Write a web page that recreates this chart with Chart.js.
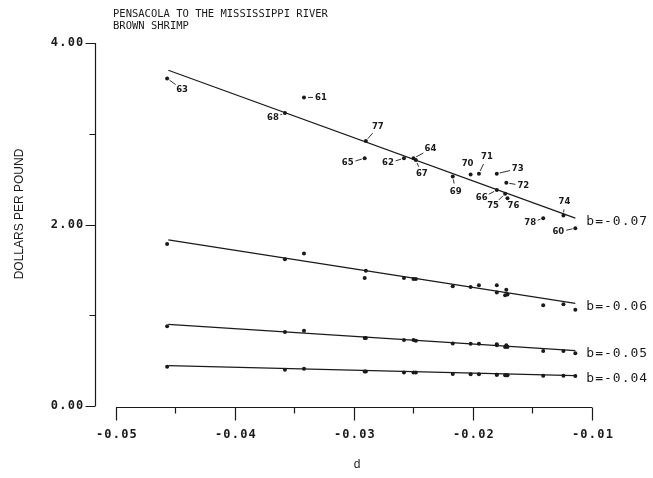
<!DOCTYPE html>
<html>
<head>
<meta charset="utf-8">
<script src="https://cdn.jsdelivr.net/npm/chart.js@4/dist/chart.umd.min.js"></script>
<style>
  html, body { margin: 0; padding: 0; background: #fff; }
  #wrap { width: 653px; height: 478px; }
</style>
</head>
<body>
<div id="wrap"><canvas id="chart"></canvas></div>
<script>
// Brown shrimp, Pensacola to the Mississippi River: price vs d, one curve per b

// --- data ------------------------------------------------------------------
const years = ['60','61','62','63','64','65','66','67','68','69',
               '70','71','72','73','74','75','76','77','78'];
const dValues = [-0.0114, -0.0342, -0.0258, -0.0457, -0.0250, -0.0291, -0.0180, -0.0248, -0.0358, -0.0217,
                 -0.0202, -0.0195, -0.0172, -0.0180, -0.0124, -0.0173, -0.0171, -0.0290, -0.0141];

const priceB07 = [1.96, 3.40, 2.73, 3.61, 2.73, 2.73, 2.38, 2.71, 3.23, 2.53,
                  2.55, 2.56, 2.46, 2.56, 2.10, 2.34, 2.29, 2.92, 2.07];
const priceB06 = [1.06, 1.68, 1.41, 1.785, 1.40, 1.41, 1.25, 1.40, 1.617, 1.32,
                  1.31, 1.33, 1.28, 1.33, 1.12, 1.22, 1.23, 1.49, 1.11];
const priceB05 = [0.58, 0.83, 0.727, 0.88, 0.727, 0.75, 0.67, 0.72, 0.815, 0.69,
                  0.687, 0.687, 0.67, 0.68, 0.606, 0.65, 0.65, 0.75, 0.606];
const priceB04 = [0.33, 0.41, 0.37, 0.433, 0.37, 0.38, 0.345, 0.37, 0.40, 0.353,
                  0.35, 0.35, 0.34, 0.345, 0.334, 0.34, 0.34, 0.38, 0.334];

// fitted lines: [start, end]
const fitD   = [-0.0456, -0.0114];
const fitB07 = [3.70, 2.07];
const fitB06 = [1.83, 1.13];
const fitB05 = [0.90, 0.61];
const fitB04 = [0.444, 0.334];

const curveNames = ['b=-0.07', 'b=-0.06', 'b=-0.05', 'b=-0.04'];

const xTicks = [-0.05, -0.04, -0.03, -0.02, -0.01];
const xMinorTicks = [-0.045, -0.035, -0.025, -0.015];
const yTicks = [0, 1, 2, 3, 4];
const yTickLabels = ['0.00', '', '2.00', '', '4.00'];

// year label offsets from the point (pixels), top curve only
const labelOffsets = {
  '60': [-17, 4],  '61': [17, 0],   '62': [-16, 5], '63': [15, 11], '64': [17, -9],
  '65': [-17, 5],  '66': [-15, 8],  '67': [6, 14],  '68': [-12, 5], '69': [3, 15],
  '70': [-3, -11], '71': [8, -17],  '72': [17, 3],  '73': [21, -5], '74': [1, -14],
  '75': [-12, 12], '76': [6, 8],    '77': [12, -14],'78': [-13, 5]
};

const INK = '#1a1a1a';
const MONO = '"DejaVu Sans Mono", monospace';

const pts = (ys) => dValues.map((d, i) => ({ x: d, y: ys[i] }));
const fit = (ys) => fitD.map((d, i) => ({ x: d, y: ys[i] }));

const priceSets = [priceB07, priceB06, priceB05, priceB04];
const fitSets = [fitB07, fitB06, fitB05, fitB04];

const datasets = [];
fitSets.forEach((f, i) => {
  datasets.push({
    label: curveNames[i] + ' fit', data: fit(f), showLine: true,
    borderColor: INK, borderWidth: 1.2, pointRadius: 0, fill: false
  });
});
priceSets.forEach((p, i) => {
  datasets.push({
    label: curveNames[i], data: pts(p), showLine: false,
    backgroundColor: INK, borderColor: INK, pointRadius: 2, pointBorderWidth: 0
  });
});

// --- hand-drawn axes, labels, annotations --------------------------------
const plotterDecor = {
  id: 'plotterDecor',
  afterDraw(chart) {
    const { ctx, chartArea: a } = chart;
    const sx = chart.scales.x, sy = chart.scales.y;
    ctx.save();
    ctx.strokeStyle = INK;
    ctx.fillStyle = INK;
    ctx.lineWidth = 1.2;

    // y axis
    const ax = a.left + 0.5;
    ctx.beginPath();
    ctx.moveTo(ax, sy.getPixelForValue(4));
    ctx.lineTo(ax, sy.getPixelForValue(0));
    yTicks.forEach((v, i) => {
      const py = Math.round(sy.getPixelForValue(v)) + 0.5;
      ctx.moveTo(ax - (yTickLabels[i] ? 10 : 6), py);
      ctx.lineTo(ax, py);
    });
    ctx.stroke();

    ctx.font = 'bold 12px ' + MONO;
    ctx.letterSpacing = '1.2px';
    ctx.textAlign = 'right';
    ctx.textBaseline = 'middle';
    yTicks.forEach((v, i) => {
      if (yTickLabels[i]) ctx.fillText(yTickLabels[i], ax - 11, sy.getPixelForValue(v));
    });

    // x axis
    const by = a.bottom - 0.5;
    ctx.beginPath();
    ctx.moveTo(sx.getPixelForValue(xTicks[0]), by);
    ctx.lineTo(sx.getPixelForValue(xTicks[xTicks.length - 1]), by);
    xTicks.forEach((v) => {
      const px = Math.round(sx.getPixelForValue(v)) + 0.5;
      ctx.moveTo(px, by); ctx.lineTo(px, by + 13);
    });
    xMinorTicks.forEach((v) => {
      const px = Math.round(sx.getPixelForValue(v)) + 0.5;
      ctx.moveTo(px, by); ctx.lineTo(px, by + 6);
    });
    ctx.stroke();

    ctx.textAlign = 'center';
    ctx.textBaseline = 'middle';
    xTicks.forEach((v) => {
      ctx.fillText(v.toFixed(2), sx.getPixelForValue(v) + 1, by + 27);
    });

    // curve names at the right end
    ctx.font = '13px ' + MONO;
    ctx.letterSpacing = '1px';
    ctx.textAlign = 'left';
    fitSets.forEach((f, i) => {
      ctx.fillText(curveNames[i], sx.getPixelForValue(fitD[1]) + 11,
                   sy.getPixelForValue(f[1]) + 3);
    });

    // title
    ctx.letterSpacing = '0px';
    ctx.font = '10.5px ' + MONO;
    ctx.textBaseline = 'alphabetic';
    ctx.fillText('PENSACOLA TO THE MISSISSIPPI RIVER', 113, 17);
    ctx.fillText('BROWN SHRIMP', 113, 29);

    // axis titles
    ctx.font = '12px "Liberation Sans", Arial, sans-serif';
    ctx.textAlign = 'center';
    ctx.textBaseline = 'middle';
    ctx.fillText('d', 357, 465);
    ctx.save();
    ctx.translate(20, 214);
    ctx.rotate(-Math.PI / 2);
    ctx.fillText('DOLLARS PER POUND', 0, 0);
    ctx.restore();

    // year labels with leader lines on the top curve
    ctx.font = 'bold 8.5px "DejaVu Sans", sans-serif';
    ctx.lineWidth = 0.9;
    years.forEach((yr, i) => {
      const px = sx.getPixelForValue(dValues[i]);
      const py = sy.getPixelForValue(priceB07[i]);
      const [ox, oy] = labelOffsets[yr];
      const len = Math.hypot(ox, oy);
      const ux = ox / len, uy = oy / len;
      if (yr === '61') {
        ctx.beginPath();
        ctx.moveTo(px + 4, py); ctx.lineTo(px + 9, py); ctx.stroke();
        ctx.textAlign = 'left';
        ctx.fillText(yr, px + 11, py);
        ctx.textAlign = 'center';
        return;
      }
      if (len > 12) {
        ctx.beginPath();
        ctx.moveTo(px + ux * 3, py + uy * 3);
        ctx.lineTo(px + ux * (len - 8), py + uy * (len - 8));
        ctx.stroke();
      }
      ctx.fillText(yr, px + ox, py + oy);
    });

    ctx.restore();
  }
};

new Chart(document.querySelector('#chart'), {
  type: 'scatter',
  data: { datasets },
  options: {
    responsive: true,
    maintainAspectRatio: false,
    animation: false,
    layout: { padding: { left: 95, right: 61, top: 43, bottom: 70 } },
    plugins: { legend: { display: false }, tooltip: { enabled: false }, title: { display: false } },
    scales: {
      x: { type: 'linear', display: false, min: -0.05176, max: -0.01 },
      y: { type: 'linear', display: false, min: -0.022, max: 4.0 }
    }
  },
  plugins: [plotterDecor]
});
</script>
</body>
</html>
